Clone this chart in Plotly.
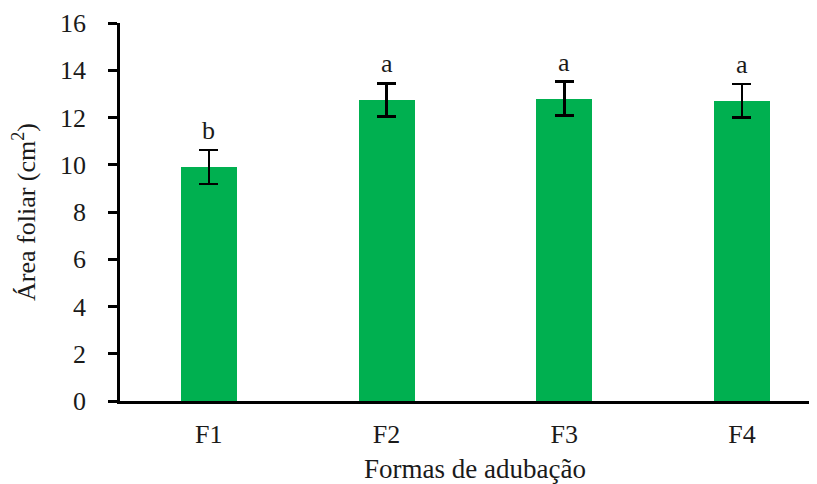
import plotly.graph_objects as go

categories = ["F1", "F2", "F3", "F4"]
values = [9.9, 12.75, 12.8, 12.7]
errors = [0.72, 0.7, 0.72, 0.71]
letters = ["b", "a", "a", "a"]
y_ticks = [0, 2, 4, 6, 8, 10, 12, 14, 16]

FONT = "Liberation Serif, Times New Roman, serif"
TXT = "#1a1a1a"

fig = go.Figure()
fig.add_trace(go.Bar(
    x=list(range(len(categories))),
    y=values,
    width=0.315,
    marker=dict(color="#00B050", line=dict(width=0)),
    error_y=dict(type="data", array=errors, visible=True,
                 color="black", thickness=2.6, width=9.5),
    showlegend=False,
))

for i, (v, e, t) in enumerate(zip(values, errors, letters)):
    fig.add_annotation(x=i, y=v + e, text=t, showarrow=False,
                       yanchor="bottom", yshift=3,
                       font=dict(family=FONT, size=26, color=TXT))

fig.add_annotation(x=1.5, xref="x", y=-0.18, yref="paper",
                   text="Formas de adubação", showarrow=False,
                   yanchor="middle",
                   font=dict(family=FONT, size=27, color=TXT))

# page body has an 8px margin; figure sized to fill the 817x484 window
fig.update_layout(
    width=809, height=476,
    margin=dict(l=112, r=0, t=15, b=83, autoexpand=False),
    plot_bgcolor="white", paper_bgcolor="white",
    font=dict(family=FONT, size=24, color=TXT),
    bargap=0,
)
fig.update_xaxes(
    range=[-0.5, -0.5 + 697 / 177.7],
    tickmode="array", tickvals=list(range(len(categories))),
    ticktext=categories,
    showline=True, linecolor="black", linewidth=2.6,
    ticks="", showgrid=False, zeroline=False, automargin=False,
    tickfont=dict(family=FONT, size=26, color=TXT),
    ticklabelstandoff=8, ticklabeloverflow="allow",
)
fig.update_yaxes(
    range=[0, 16], tickvals=y_ticks,
    showline=True, linecolor="black", linewidth=2.6,
    ticks="outside", ticklen=9, tickwidth=2.6, tickcolor="black",
    showgrid=False, zeroline=False, automargin=False,
    tickfont=dict(family=FONT, size=26, color=TXT),
    ticklabelstandoff=17, ticklabeloverflow="allow",
    title=dict(text="Área foliar (cm<sup>2</sup>)",
               font=dict(family=FONT, size=26, color=TXT), standoff=18),
)

fig.write_html("out.html")
